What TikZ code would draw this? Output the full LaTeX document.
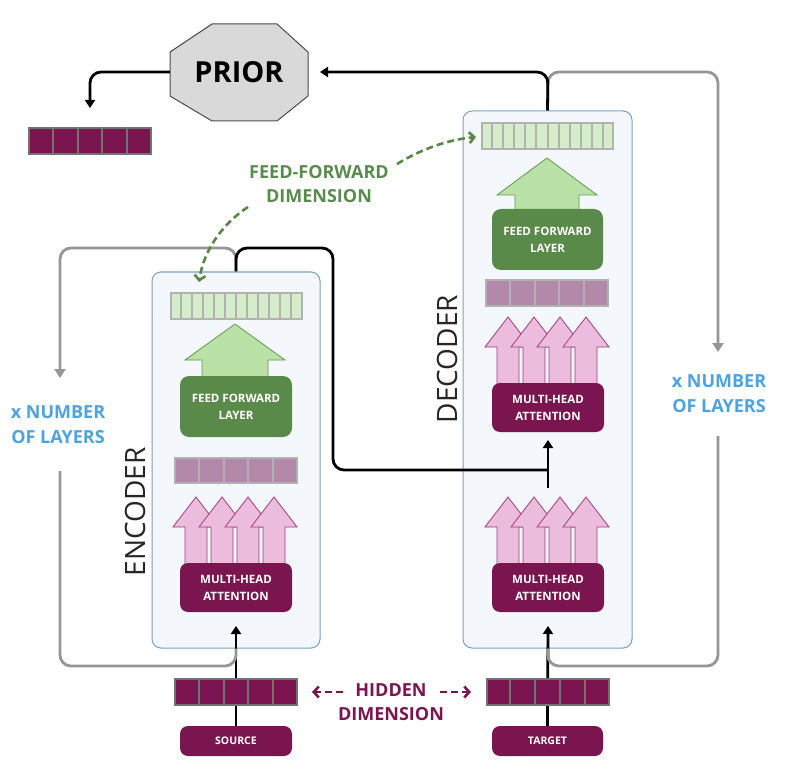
\documentclass[tikz,border=0pt]{standalone}
\usepackage{fontspec}
\setmainfont{Open Sans}
\usetikzlibrary{arrows.meta,calc}
\definecolor{mag}{RGB}{122,21,80}
\definecolor{midpurp}{RGB}{180,136,168}
\definecolor{pinkfill}{RGB}{236,188,220}
\definecolor{pinkline}{RGB}{160,60,130}
\definecolor{lgreen}{RGB}{214,237,202}
\definecolor{agreen}{RGB}{186,226,166}
\definecolor{agreenline}{RGB}{100,150,80}
\definecolor{dgreen}{RGB}{90,138,74}
\definecolor{boxfill}{RGB}{244,248,252}
\definecolor{boxline}{RGB}{122,162,196}
\definecolor{loopgray}{RGB}{150,150,150}
\definecolor{lblue}{RGB}{77,163,223}
\definecolor{lgreentext}{RGB}{88,140,76}
\definecolor{priorfill}{RGB}{217,217,217}
\newcommand{\cellbar}[8]{%
  \node[draw=#8, fill=#7, line width=2pt, minimum width=#4pt, minimum height=#5pt, inner sep=0pt] (#1) at (#2,#3) {};
  \foreach \i in {1,...,#6} {
    \pgfmathsetmacro{\fr}{\i/(#6+1)}
    \draw[#8, line width=2pt] ($(#1.north west)!\fr!(#1.north east)$) -- ($(#1.south west)!\fr!(#1.south east)$);
  }
}
\newcommand{\pinkarrow}[3]{% tip x, tip y, bottom y
  \filldraw[fill=pinkfill, draw=pinkline, line width=0.8pt]
    (#1,#2) -- ++(23,30) -- ++(-12,0) -- (#1+11,#3) -- (#1-11,#3) -- (#1-11,#2+30) -- ++(-12,0) -- cycle;
}
\newcommand{\greenarrow}[6]{% tip x, tip y, base y, head half, shaft half, bottom
  \filldraw[fill=agreen, draw=agreenline, line width=0.8pt]
    (#1,#2) -- (#1+#4,#3) -- (#1+#5,#3) -- (#1+#5,#6) -- (#1-#5,#6) -- (#1-#5,#3) -- (#1-#4,#3) -- cycle;
}
\tikzset{
  stackbox/.style={draw=boxline, fill=boxfill, line width=1pt, rounded corners=9pt, inner sep=0pt},
  magbox/.style={fill=mag, text=white, rounded corners=8pt, inner sep=0pt, align=center,
    font=\bfseries\fontsize{11.5}{17}\selectfont},
  ffbox/.style={fill=dgreen, text=white, rounded corners=9pt, inner sep=0pt, align=center,
    font=\bfseries\fontsize{11.5}{17}\selectfont},
  blackline/.style={line width=2.8pt, black, rounded corners=11pt},
  grayline/.style={line width=2.8pt, loopgray, rounded corners=11pt},
  blacktip/.style={-{Triangle[width=10pt,length=8pt]}},
  graytip/.style={-{Triangle[width=11pt,length=9pt]}},
  layerlabel/.style={text=lblue, align=center, font=\bfseries\fontsize{18}{25}\selectfont},
  stacklabel/.style={rotate=90, text=black!85, font=\fontsize{28}{30}\selectfont},
}
\begin{document}
\begin{tikzpicture}[x=1pt,y=-1pt]
\useasboundingbox (0,0) rectangle (790,770);

% stack boxes
\node[stackbox, minimum width=168pt, minimum height=376pt] (enc) at (236,460) {};
\node[stackbox, minimum width=169pt, minimum height=537pt] (dec) at (547.5,379.5) {};

% ---------------- encoder contents
\cellbar{encff}{236}{306}{131}{26}{11}{lgreen}{black!30}
\greenarrow{235}{324}{360}{50}{33}{382}
\node[ffbox, minimum width=112pt, minimum height=61pt] (encffl) at (236,406.5) {FEED FORWARD\\LAYER};
\cellbar{encatt}{236}{470.5}{122}{25}{4}{midpurp}{black!30}
\pinkarrow{196}{497}{566}
\pinkarrow{222}{497}{566}
\pinkarrow{248}{497}{566}
\pinkarrow{274}{497}{566}
\node[magbox, minimum width=112pt, minimum height=49pt] (encmha) at (236,587.5) {MULTI-HEAD\\ATTENTION};

% ---------------- decoder contents
\cellbar{decff}{547.5}{136}{131}{26}{11}{lgreen}{black!30}
\greenarrow{547}{158}{195}{50}{32}{214}
\node[ffbox, minimum width=111pt, minimum height=61pt] (decffl) at (547.5,239.5) {FEED FORWARD\\LAYER};
\cellbar{decatt}{547}{293}{122}{26}{4}{midpurp}{black!30}
\pinkarrow{508}{317}{386}
\pinkarrow{534}{317}{386}
\pinkarrow{560}{317}{386}
\pinkarrow{586}{317}{386}
\node[magbox, minimum width=112pt, minimum height=49pt] (decmha1) at (548,407.5) {MULTI-HEAD\\ATTENTION};
\pinkarrow{508}{497}{566}
\pinkarrow{534}{497}{566}
\pinkarrow{560}{497}{566}
\pinkarrow{586}{497}{566}
\node[magbox, minimum width=112pt, minimum height=49pt] (decmha2) at (548,587.5) {MULTI-HEAD\\ATTENTION};

% stack labels
\node[stacklabel] (enclabel) at (135,512) {ENCODER};
\node[stacklabel] (declabel) at (447,359) {DECODER};

% ---------------- inputs
\node[magbox, minimum width=112pt, minimum height=30pt, font=\bfseries\fontsize{10.5}{12}\selectfont] (source) at (236,741) {SOURCE};
\node[magbox, minimum width=111pt, minimum height=30pt, font=\bfseries\fontsize{10.5}{12}\selectfont] (target) at (547.5,741) {TARGET};
\coordinate (enctip) at (236,626);
\coordinate (dectip) at (548,626);
\draw[blackline, blacktip] (source.north) -- (enctip);
\draw[blackline, blacktip] (target.north) -- (dectip);
\cellbar{srcbar}{236}{692}{122}{26}{4}{mag}{black!55}
\cellbar{tgtbar}{547.5}{692}{122}{26}{4}{mag}{black!55}

% hidden dimension
\node[text=mag, align=center, font=\bfseries\fontsize{18}{24}\selectfont] (hidden) at (391,702) {HIDDEN\\DIMENSION};
\coordinate (hl1) at (343,692); \coordinate (hl2) at (312,692);
\coordinate (hr1) at (440,692); \coordinate (hr2) at (471,692);
\draw[mag, line width=2.6pt, dash pattern=on 7pt off 4pt, -{Straight Barb[length=5pt,width=11pt]}] (hl1) -- (hl2);
\draw[mag, line width=2.6pt, dash pattern=on 7pt off 4pt, -{Straight Barb[length=5pt,width=11pt]}] (hr1) -- (hr2);

% ---------------- encoder loops
\coordinate (ltip) at (60,378);
\coordinate (lstart) at (60,471);
\draw[grayline, graytip] (enc.north) -- (236,248) -- (60,248) -- (ltip);
\draw[grayline] (lstart) -- (60,666) -- (236,666) -- (enc.south);
\node[layerlabel] (llayers) at (58,425) {x NUMBER\\OF LAYERS};

% encoder -> decoder cross connection
\coordinate (junc) at (548,470);
\coordinate (jstart) at (548,488);
\coordinate (jtip) at (548,440);
\draw[blackline] (enc.north) -- (236,248) -- (333,248) -- (333,470) -- (junc);
\draw[blackline, blacktip, rounded corners=0pt] (jstart) -- (jtip);

% ---------------- decoder loops
\coordinate (rtip) at (718,352);
\coordinate (rstart) at (718,436);
\draw[grayline, graytip] (dec.north) -- (548,72) -- (718,72) -- (rtip);
\draw[grayline] (rstart) -- (718,666) -- (548,666) -- (dec.south);
\node[layerlabel] (rlayers) at (719,394) {x NUMBER\\OF LAYERS};

% ---------------- prior
\filldraw[fill=priorfill, draw=black!70, line width=1pt]
  (212,24) -- (277,24) -- (308,52) -- (308,96) -- (277,121) -- (212,121) -- (170,96) -- (170,52) -- cycle;
\node[minimum width=138pt, minimum height=97pt, inner sep=0pt, font=\bfseries\fontsize{29}{30}\selectfont] (prior) at (239,72) {PRIOR};
\coordinate (priortip) at (320,72);
\draw[blackline, blacktip] (dec.north) -- (548,72) -- (priortip);
\cellbar{outbar}{90}{141}{122}{26}{4}{mag}{black!55}
\coordinate (outtip) at (90,108);
\draw[blackline, blacktip] (prior.west) -- (90,72) -- (outtip);

% ---------------- feed-forward dimension
\node[text=lgreentext, align=center, font=\bfseries\fontsize{18}{24}\selectfont] (ffdim) at (319,184) {FEED-FORWARD\\DIMENSION};
\coordinate (fd1) at (248,207);
\coordinate (fd2) at (199,282);
\coordinate (fu1) at (397,164);
\coordinate (fu2) at (476,137);
\draw[agreenline!90!black, line width=2.6pt, dash pattern=on 7pt off 4pt, -{Straight Barb[length=5pt,width=11pt]}]
  (fd1) .. controls (225,222) and (204,248) .. (fd2);
\draw[agreenline!90!black, line width=2.6pt, dash pattern=on 7pt off 4pt, -{Straight Barb[length=5pt,width=11pt]}]
  (fu1) .. controls (420,150) and (446,140) .. (fu2);
\end{tikzpicture}
\end{document}
